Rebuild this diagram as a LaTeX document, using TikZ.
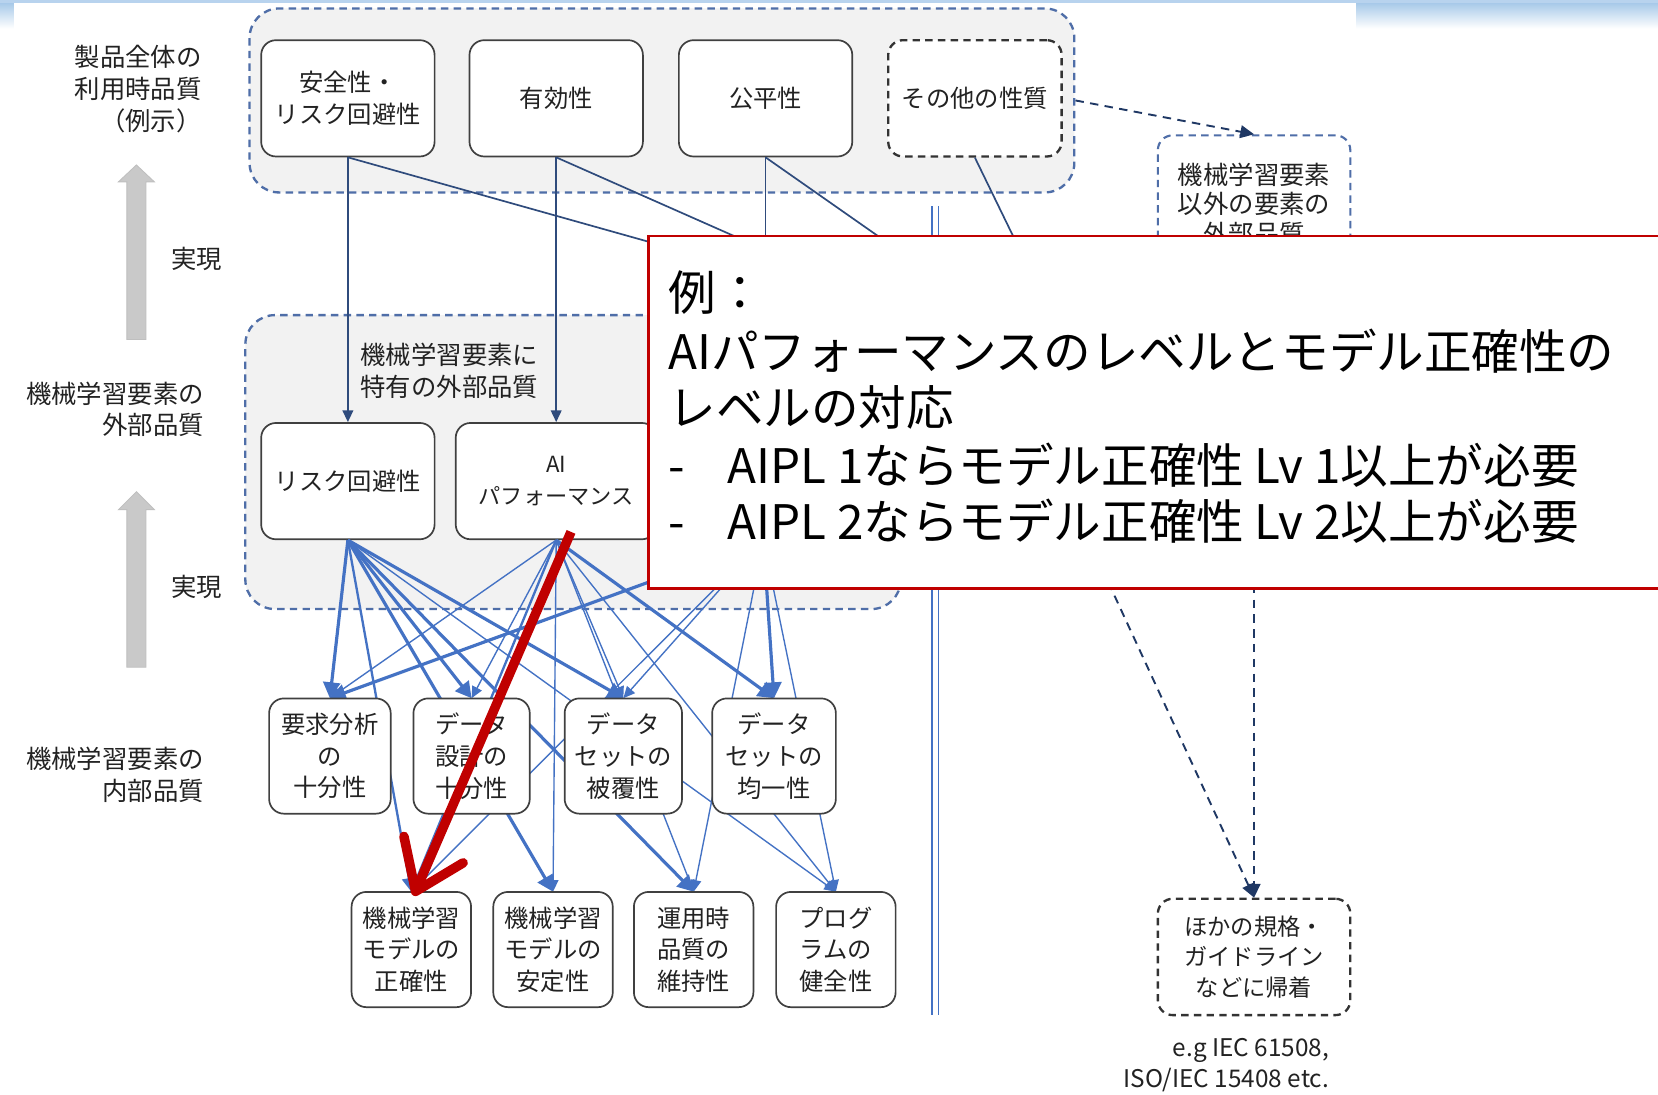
\documentclass[tikz,border=0pt]{standalone}
\usepackage{fontspec}
\setmainfont{Noto Sans CJK JP}
\usetikzlibrary{arrows.meta,calc}
\definecolor{lineblue}{HTML}{4472C4}
\definecolor{navy}{HTML}{2F4B7C}
\definecolor{grpblue}{HTML}{4F6EA8}
\definecolor{grpfill}{HTML}{F2F2F2}
\definecolor{boxgray}{HTML}{404040}
\definecolor{redc}{HTML}{C00000}
\definecolor{bannerA}{HTML}{9DC3E6}
\definecolor{bannerB}{HTML}{B8D3EE}
\definecolor{txt}{HTML}{222222}
\definecolor{darrow}{HTML}{1F3864}
\definecolor{garrow}{HTML}{C9C9C9}
\begin{document}
\begin{tikzpicture}[x=1pt,y=-1pt,
  grp/.style={draw=grpblue, fill=grpfill, line width=2.2pt, dash pattern=on 7pt off 5pt, rounded corners=28pt, inner sep=0pt},
  box/.style={draw=boxgray, fill=white, line width=1.6pt, rounded corners=14pt, align=center, inner sep=0pt, text=txt, font=\fontsize{23}{30}\selectfont},
  dbox/.style={box, draw=black!80, line width=2.2pt, dash pattern=on 7pt off 5pt},
  bdbox/.style={box, draw=grpblue, line width=2pt, dash pattern=on 7pt off 5pt},
  lbl/.style={align=right, text=txt, font=\fontsize{24}{30}\selectfont, inner sep=0pt},
  nv/.style={draw=navy, line width=1.6pt},
  nva/.style={nv, -{Triangle[length=11pt,width=10pt]}},
  bthin/.style={draw=lineblue, line width=1.3pt, -{Triangle[length=11pt,width=10pt]}},
  bmed/.style={draw=lineblue, line width=2.2pt, -{Triangle[length=13pt,width=13pt]}},
  bthick/.style={draw=lineblue, line width=3pt, -{Triangle[length=15pt,width=16pt]}},
  dnav/.style={draw=darrow, line width=1.8pt, dash pattern=on 8pt off 6pt, -{Triangle[length=13pt,width=12pt]}},
  ctext/.style={anchor=base west, inner sep=0pt, font=\fontsize{45}{54}\selectfont, text=black},
  garr/.style={fill=garrow, draw=black!25, line width=0.8pt}
]
\useasboundingbox (0,0) rectangle (1568,1035);
\fill[white] (0,0) rectangle (1568,1035);
% banner
\fill[top color=bannerA, bottom color=white] (0,0) rectangle (1568,27);
\fill[bannerB] (0,0) rectangle (1568,3);
\fill[white] (13,3) rectangle (1282,60);

% groups
\node[grp, minimum width=780pt, minimum height=174pt] (g1) at (626,95) {};
\node[grp, minimum width=620pt, minimum height=278pt] (g2) at (542,437) {};

% gray arrows
\draw[garr] (120,321) -- (120,172) -- (112,172) -- (129,156) -- (146,172) -- (138,172) -- (138,321) -- cycle;
\draw[garr] (120,631) -- (120,482) -- (112,482) -- (129,465) -- (146,482) -- (138,482) -- (138,631) -- cycle;

% left labels
\node[lbl, anchor=east] (lab1) at (191,84) {製品全体の\\利用時品質\\（例示）};
\node[lbl, anchor=east] (lab2) at (193,387) {機械学習要素の\\外部品質};
\node[lbl, anchor=east] (lab3) at (193,733) {機械学習要素の\\内部品質};
\node[lbl] (r1) at (186,245) {実現};
\node[lbl] (r2) at (186,555) {実現};
\node[lbl, align=center] (g2lab) at (425,351) {機械学習要素に\\特有の外部品質};

% double line
\draw[lineblue, line width=1.2pt] (881.5,195) -- (881.5,960);
\draw[lineblue, line width=1.2pt] (887.5,195) -- (887.5,960);

% top boxes
\node[box, minimum width=164pt, minimum height=110pt] (safe) at (329,93) {安全性・\\リスク回避性};
\node[box, minimum width=164pt, minimum height=110pt] (eff) at (526,93) {有効性};
\node[box, minimum width=164pt, minimum height=110pt] (fair) at (724,93) {公平性};
\node[dbox, minimum width=164pt, minimum height=110pt] (other) at (922,93) {その他の性質};

% right boxes
\node[bdbox, minimum width=182pt, minimum height=130pt, font=\fontsize{24}{28}\selectfont] (nonml) at (1186,193) {機械学習要素\\以外の要素の\\外部品質};
\node[dbox, minimum width=182pt, minimum height=110pt, font=\fontsize{22}{29}\selectfont] (osd) at (1186,905) {ほかの規格・\\ガイドライン\\などに帰着};
\node[lbl, anchor=east, font=\fontsize{23}{29}\selectfont] (eg) at (1257,1007) {e.g IEC 61508,\\ISO/IEC 15408 etc.};

% hidden endpoints (under callout)
\coordinate (se) at (800,281);
\coordinate (ee) at (800,270);
\coordinate (fe) at (900,272);
\coordinate (fv) at (724,300);
\coordinate (oe) at (975,258);
\coordinate (dA) at (960,360);
\coordinate (hid) at (722,511);

% group-2 boxes
\node[box, minimum width=164pt, minimum height=110pt] (risk) at (329,455) {リスク回避性};
\node[box, minimum width=190pt, minimum height=110pt, font=\fontsize{21}{30}\selectfont] (ai) at (526,455) {AI\\パフォーマンス};

% top connectors
\draw[nva] (safe.south) -- (risk.north);
\draw[nv] (safe.south) -- (se);
\draw[nva] (eff.south) -- (ai.north);
\draw[nv] (eff.south) -- (ee);
\draw[nv] (fair.south) -- (fv);
\draw[nv] (fair.south) -- (fe);
\draw[nv] (other.south) -- (oe);
\draw[dnav] (g1.east) -- (nonml.north);
\draw[dnav] (dA) -- (osd.north);
\draw[dnav] (nonml.south) -- (osd.north);

% anchors for internal quality boxes
\node[minimum width=115pt, minimum height=109pt, inner sep=0pt] (req) at (312,715) {};
\node[minimum width=110pt, minimum height=109pt, inner sep=0pt] (dd) at (446,715) {};
\node[minimum width=111pt, minimum height=109pt, inner sep=0pt] (cov) at (589.5,715) {};
\node[minimum width=117pt, minimum height=109pt, inner sep=0pt] (uni) at (732,715) {};
\node[minimum width=113pt, minimum height=109pt, inner sep=0pt] (acc) at (389,898) {};
\node[minimum width=113pt, minimum height=109pt, inner sep=0pt] (stab) at (523,898) {};
\node[minimum width=113pt, minimum height=109pt, inner sep=0pt] (maint) at (656,898) {};
\node[minimum width=113pt, minimum height=109pt, inner sep=0pt] (prog) at (790.5,898) {};

% risk edges
\draw[bthick] (risk.south) -- (req.north);
\draw[bmed] (risk.south) -- (acc.north);
\draw[bthick] (risk.south) -- (stab.north);
\draw[bthick] (risk.south) -- (dd.north);
\draw[bthick] (risk.south) -- (maint.north);
\draw[bthick] (risk.south) -- (cov.north);
\draw[bthin] (risk.south) -- (prog.north);
% AI edges
\draw[bthin] (ai.south) -- (req.north);
\draw[bthin] (ai.south) -- (dd.north);
\draw[bmed] (ai.south) -- (acc.north);
\draw[bthin] (ai.south) -- (stab.north);
\draw[bthin] (ai.south) -- (cov.north);
\draw[bthin] (ai.south) -- (maint.north);
\draw[bthick] (ai.south) -- (uni.north);
\draw[bthin] (ai.south) -- (prog.north);
% hidden source edges
\draw[bthick] (hid) -- (req.north);
\draw[bthick] (hid) -- (uni.north);
\draw[bthin] (hid) -- (maint.north);
\draw[bthin] (hid) -- (prog.north);
\draw[bthin] (hid) -- (cov.north);
\draw[bthin] (hid) -- (acc.north);

% visible boxes on top
\node[box, minimum width=115pt, minimum height=109pt] at (req) {要求分析\\の\\十分性};
\node[box, minimum width=110pt, minimum height=109pt] at (dd) {データ\\設計の\\十分性};
\node[box, minimum width=111pt, minimum height=109pt] at (cov) {データ\\セットの\\被覆性};
\node[box, minimum width=117pt, minimum height=109pt] at (uni) {データ\\セットの\\均一性};
\node[box, minimum width=113pt, minimum height=109pt] at (acc) {機械学習\\モデルの\\正確性};
\node[box, minimum width=113pt, minimum height=109pt] at (stab) {機械学習\\モデルの\\安定性};
\node[box, minimum width=113pt, minimum height=109pt] at (maint) {運用時\\品質の\\維持性};
\node[box, minimum width=113pt, minimum height=109pt] at (prog) {プログ\\ラムの\\健全性};

% callout
\node[draw=redc, fill=white, line width=2.5pt, anchor=north west, minimum width=990pt, minimum height=333pt, inner sep=0pt] (call) at (612,222) {};
\node[ctext] (c1) at (632,294) {例：};
\node[ctext] (c2) at (632,349) {AIパフォーマンスのレベルとモデル正確性の};
\node[ctext] (c3) at (632,402) {レベルの対応};
\node[ctext] (c4) at (632,457) {\makebox[56pt][l]{-}AIPL 1ならモデル正確性 Lv 1以上が必要};
\node[ctext] (c5) at (632,510) {\makebox[56pt][l]{-}AIPL 2ならモデル正確性 Lv 2以上が必要};

% red arrow
\coordinate (rs) at (540,503);
\coordinate (rt) at (393,843);
\coordinate (ra1) at (438,816);
\coordinate (ra2) at (382,791);
\draw[redc, line width=9pt] (rs) -- (rt);
\draw[redc, line width=9pt, line cap=round, line join=round] (ra2) -- (rt) -- (ra1);
\end{tikzpicture}
\end{document}
